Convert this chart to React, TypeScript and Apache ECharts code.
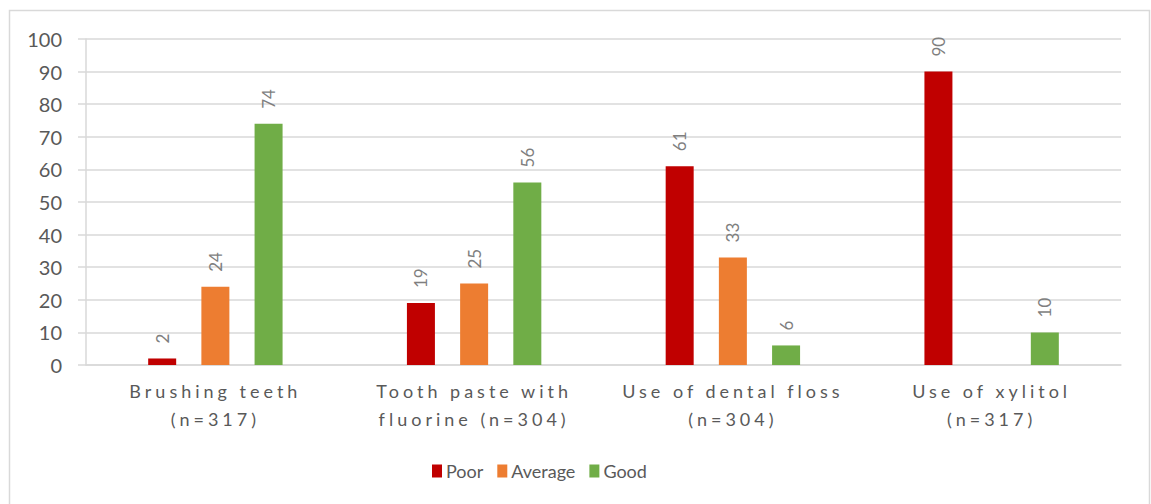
import React, { useEffect, useRef } from "react";
import * as echarts from "echarts";

const categories = [
  "Brushing teeth\n(n=317)",
  "Tooth paste with\nfluorine (n=304)",
  "Use of dental floss\n(n=304)",
  "Use of xylitol\n(n=317)",
];
const poor = [2, 19, 61, 90];
const average: (number | null)[] = [24, 25, 33, null];
const good = [74, 56, 6, 10];
const yTicks = { min: 0, max: 100, interval: 10 };

const FONT = "Lato, 'Open Sans', sans-serif";

export default function App() {
  const ref = useRef<HTMLDivElement>(null);
  useEffect(() => {
    if (!ref.current) return;
    const chart = echarts.init(ref.current, null, { renderer: "svg" });
    const label = {
      show: true,
      position: "top",
      rotate: 90,
      align: "left",
      verticalAlign: "middle",
      distance: 15,
      color: "#7f7f7f",
      fontSize: 17,
      fontFamily: FONT,
    };
    const mk = (name: string, data: (number | null)[], color: string) => ({
      name,
      type: "bar",
      data,
      barWidth: 28,
      barGap: "90%",
      itemStyle: { color },
      label,
    });
    chart.setOption({
      animation: false,
      backgroundColor: "#ffffff",
      textStyle: { fontFamily: FONT },
      graphic: [
        {
          type: "rect",
          shape: { x: 9.5, y: 10.5, width: 1140, height: 510 },
          style: { fill: "#ffffff", stroke: "#d9d9d9", lineWidth: 1.5 },
          z: -10,
          silent: true,
        },
      ],
      grid: { left: 86, right: 30, top: 39, bottom: 139, containLabel: false },
      legend: {
        data: ["Poor", "Average", "Good"],
        left: 427,
        top: 457,
        itemWidth: 10,
        itemHeight: 13,
        itemGap: 14,
        itemStyle: { borderWidth: 0 },
        icon: "rect",
        textStyle: { color: "#595959", fontSize: 18, fontFamily: FONT, padding: [0, 0, 0, -1] },
      },
      xAxis: {
        type: "category",
        data: categories,
        axisLine: { show: true, lineStyle: { color: "#d9d9d9", width: 1.5 } },
        axisTick: { show: false },
        axisLabel: {
          color: "#595959",
          fontSize: 18,
          lineHeight: 28,
          margin: 12,
          fontFamily: FONT,
          interval: 0,
        },
      },
      yAxis: {
        type: "value",
        min: yTicks.min,
        max: yTicks.max,
        interval: yTicks.interval,
        axisLine: { show: true, lineStyle: { color: "#d9d9d9", width: 1.5 } },
        axisTick: { show: true, length: 8, lineStyle: { color: "#d9d9d9", width: 1.5 } },
        splitLine: { lineStyle: { color: "#d9d9d9", width: 1.5 } },
        axisLabel: { color: "#595959", fontSize: 20, margin: 24, fontFamily: FONT },
      },
      series: [
        mk("Poor", poor, "#c00000"),
        mk("Average", average, "#ed7d31"),
        mk("Good", good, "#70ad47"),
      ],
    });
    const lines = new Set<string>();
    categories.forEach((c) => c.split("\n").forEach((l) => lines.add(l)));
    const texts = ref.current.querySelectorAll("text, tspan");
    texts.forEach((t) => {
      const s = (t.textContent || "").trim();
      if (lines.has(s) || categories.some((c) => c.replace(/\n/g, "") === s)) {
        (t as SVGElement).setAttribute("letter-spacing", "4");
      }
    });
    return () => chart.dispose();
  }, []);
  return (
    <div
      ref={ref}
      style={{ position: "fixed", left: 0, top: 0, width: 1151, height: 504 }}
    />
  );
}
